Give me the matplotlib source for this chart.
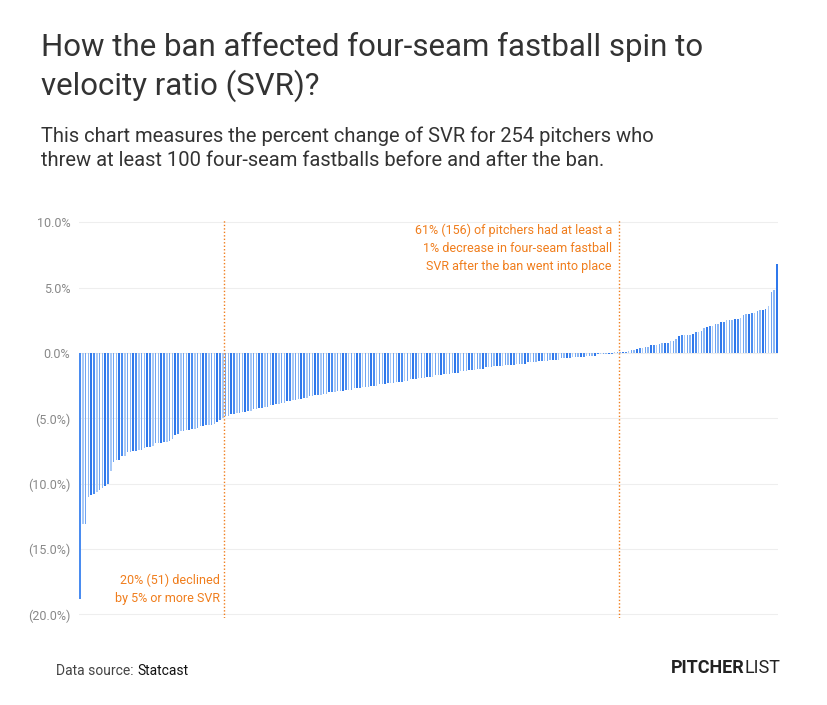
import matplotlib.pyplot as plt
import numpy as np

# percent change in SVR, sorted ascending (254 pitchers)
steep = [-18.8, -13.1, -13.1, -11.0, -10.9, -10.8, -10.6, -10.5, -10.3, -10.2,
         -10.0, -9.0, -8.3, -8.2, -8.2, -7.9, -7.9, -7.6, -7.6, -7.5,
         -7.5, -7.4, -7.4, -7.3, -7.2, -7.2, -7.1, -6.9, -6.9, -6.9,
         -6.8, -6.8, -6.7, -6.6, -6.3, -6.2, -6.0, -6.0, -5.9, -5.9,
         -5.8, -5.8, -5.7, -5.6, -5.6, -5.5, -5.5, -5.5, -5.4, -5.3,
         -5.1, -5.0]
middle = [-4.8, -4.8, -4.7, -4.7, -4.6, -4.6, -4.5, -4.5, -4.4, -4.4,
          -4.3, -4.3, -4.2, -4.2, -4.1, -4.1, -4.0, -4.0, -3.9, -3.9,
          -3.8, -3.8, -3.7, -3.7, -3.6, -3.6, -3.5, -3.5, -3.4, -3.4,
          -3.3, -3.3, -3.2, -3.2, -3.2, -3.1, -3.1, -3.0, -3.0, -3.0,
          -2.9, -2.9, -2.9, -2.8, -2.8, -2.8, -2.7, -2.7, -2.7, -2.6,
          -2.6, -2.6, -2.5, -2.5, -2.5, -2.4, -2.4, -2.4, -2.3, -2.3,
          -2.3, -2.2, -2.2, -2.2, -2.1, -2.1, -2.0, -2.0, -2.0, -1.9,
          -1.9, -1.9, -1.8, -1.8, -1.8, -1.7, -1.7, -1.7, -1.6, -1.6,
          -1.6, -1.5, -1.5, -1.5, -1.4, -1.4, -1.4, -1.3, -1.3, -1.3,
          -1.2, -1.2, -1.2, -1.1, -1.1, -1.1, -1.0, -1.0, -1.0, -1.0,
          -0.9, -0.9, -0.9, -0.9, -0.8, -0.8, -0.8, -0.8, -0.7, -0.7,
          -0.7, -0.7, -0.6, -0.6, -0.6, -0.6, -0.5, -0.5, -0.5, -0.5,
          -0.4, -0.4, -0.4, -0.4, -0.3, -0.3, -0.3, -0.3, -0.3, -0.2,
          -0.2, -0.2, -0.2, -0.1, -0.1, -0.1, -0.1, -0.05, -0.05]
positive = [0.05, 0.05, 0.1, 0.1, 0.1, 0.15, 0.2, 0.2, 0.3, 0.4,
            0.4, 0.5, 0.5, 0.6, 0.6, 0.6, 0.7, 0.8, 0.8, 0.8,
            0.9, 0.9, 1.1, 1.3, 1.4, 1.4, 1.4, 1.4, 1.5, 1.6,
            1.6, 1.7, 1.9, 2.0, 2.1, 2.1, 2.2, 2.2, 2.4, 2.4,
            2.5, 2.5, 2.5, 2.6, 2.6, 2.7, 2.9, 3.0, 3.0, 3.1,
            3.1, 3.2, 3.3, 3.3, 3.4, 3.6, 4.7, 4.8, 6.8]
values = steep + middle + positive
yticks = [10, 5, 0, -5, -10, -15, -20]
ytick_labels = ['10.0%', '5.0%', '0.0%', '(5.0%)', '(10.0%)', '(15.0%)', '(20.0%)']

shades = ['#4a8cf0', '#a9c9f6', '#6fa4f2', '#8db8f4', '#2f78ec']
orange = '#f07d1c'

fig = plt.figure(figsize=(8.28, 7.05), dpi=100)
ax = fig.add_axes([0.095, 0.123, 0.845, 0.567])
x = np.arange(len(values))
ax.bar(x, values, width=0.55, color=[shades[i % 5] for i in x])
ax.set_xlim(-0.5, len(values) - 0.5)
ax.set_ylim(-20.3, 10.3)
ax.set_yticks(yticks)
ax.set_yticklabels(ytick_labels, color='#888888', fontsize=9, family='Roboto')
ax.tick_params(axis='y', length=0, pad=6)
ax.set_xticks([])
ax.grid(axis='y', color='#eeeeee', lw=0.8)
ax.set_axisbelow(True)
for s in ax.spines.values():
    s.set_visible(False)

ax.axvline(51.5, color=orange, ls=(0, (1, 1.5)), lw=1)
ax.axvline(192.5, color=orange, ls=(0, (1, 1.5)), lw=1)
ax.text(50, -18.1, '20% (51) declined\nby 5% or more SVR', color=orange,
        fontsize=9, ha='right', va='center', family='Roboto', linespacing=1.5)
ax.text(190, 8.0, '61% (156) of pitchers had at least a\n1% decrease in four-seam fastball\nSVR after the ban went into place',
        color=orange, fontsize=9, ha='right', va='center', family='Roboto', linespacing=1.5)

fig.text(0.05, 0.905, 'How the ban affected four-seam fastball spin to\nvelocity ratio (SVR)?',
         fontsize=22.5, color='#333333', va='center', family='Roboto', linespacing=1.3)
fig.text(0.05, 0.79, 'This chart measures the percent change of SVR for 254 pitchers who\nthrew at least 100 four-seam fastballs before and after the ban.',
         fontsize=14.5, color='#333333', va='center', family='Roboto', linespacing=1.35)
src = fig.text(0.068, 0.043, 'Data source: ', fontsize=10, color='#444444', family='Roboto', va='baseline')
ax.annotate('Statcast', xy=(1, 0), xycoords=src, fontsize=10, color='#111111',
            family='Roboto', va='bottom', annotation_clip=False)
logo = fig.text(0.81, 0.045, 'PITCHER', fontsize=13, weight='bold', color='#222222',
                family='Roboto', va='baseline')
ax.annotate('LIST', xy=(1, 0), xycoords=logo, fontsize=13, color='#222222',
            family='Roboto', va='bottom', annotation_clip=False)

fig.savefig('out.png', facecolor='white')
